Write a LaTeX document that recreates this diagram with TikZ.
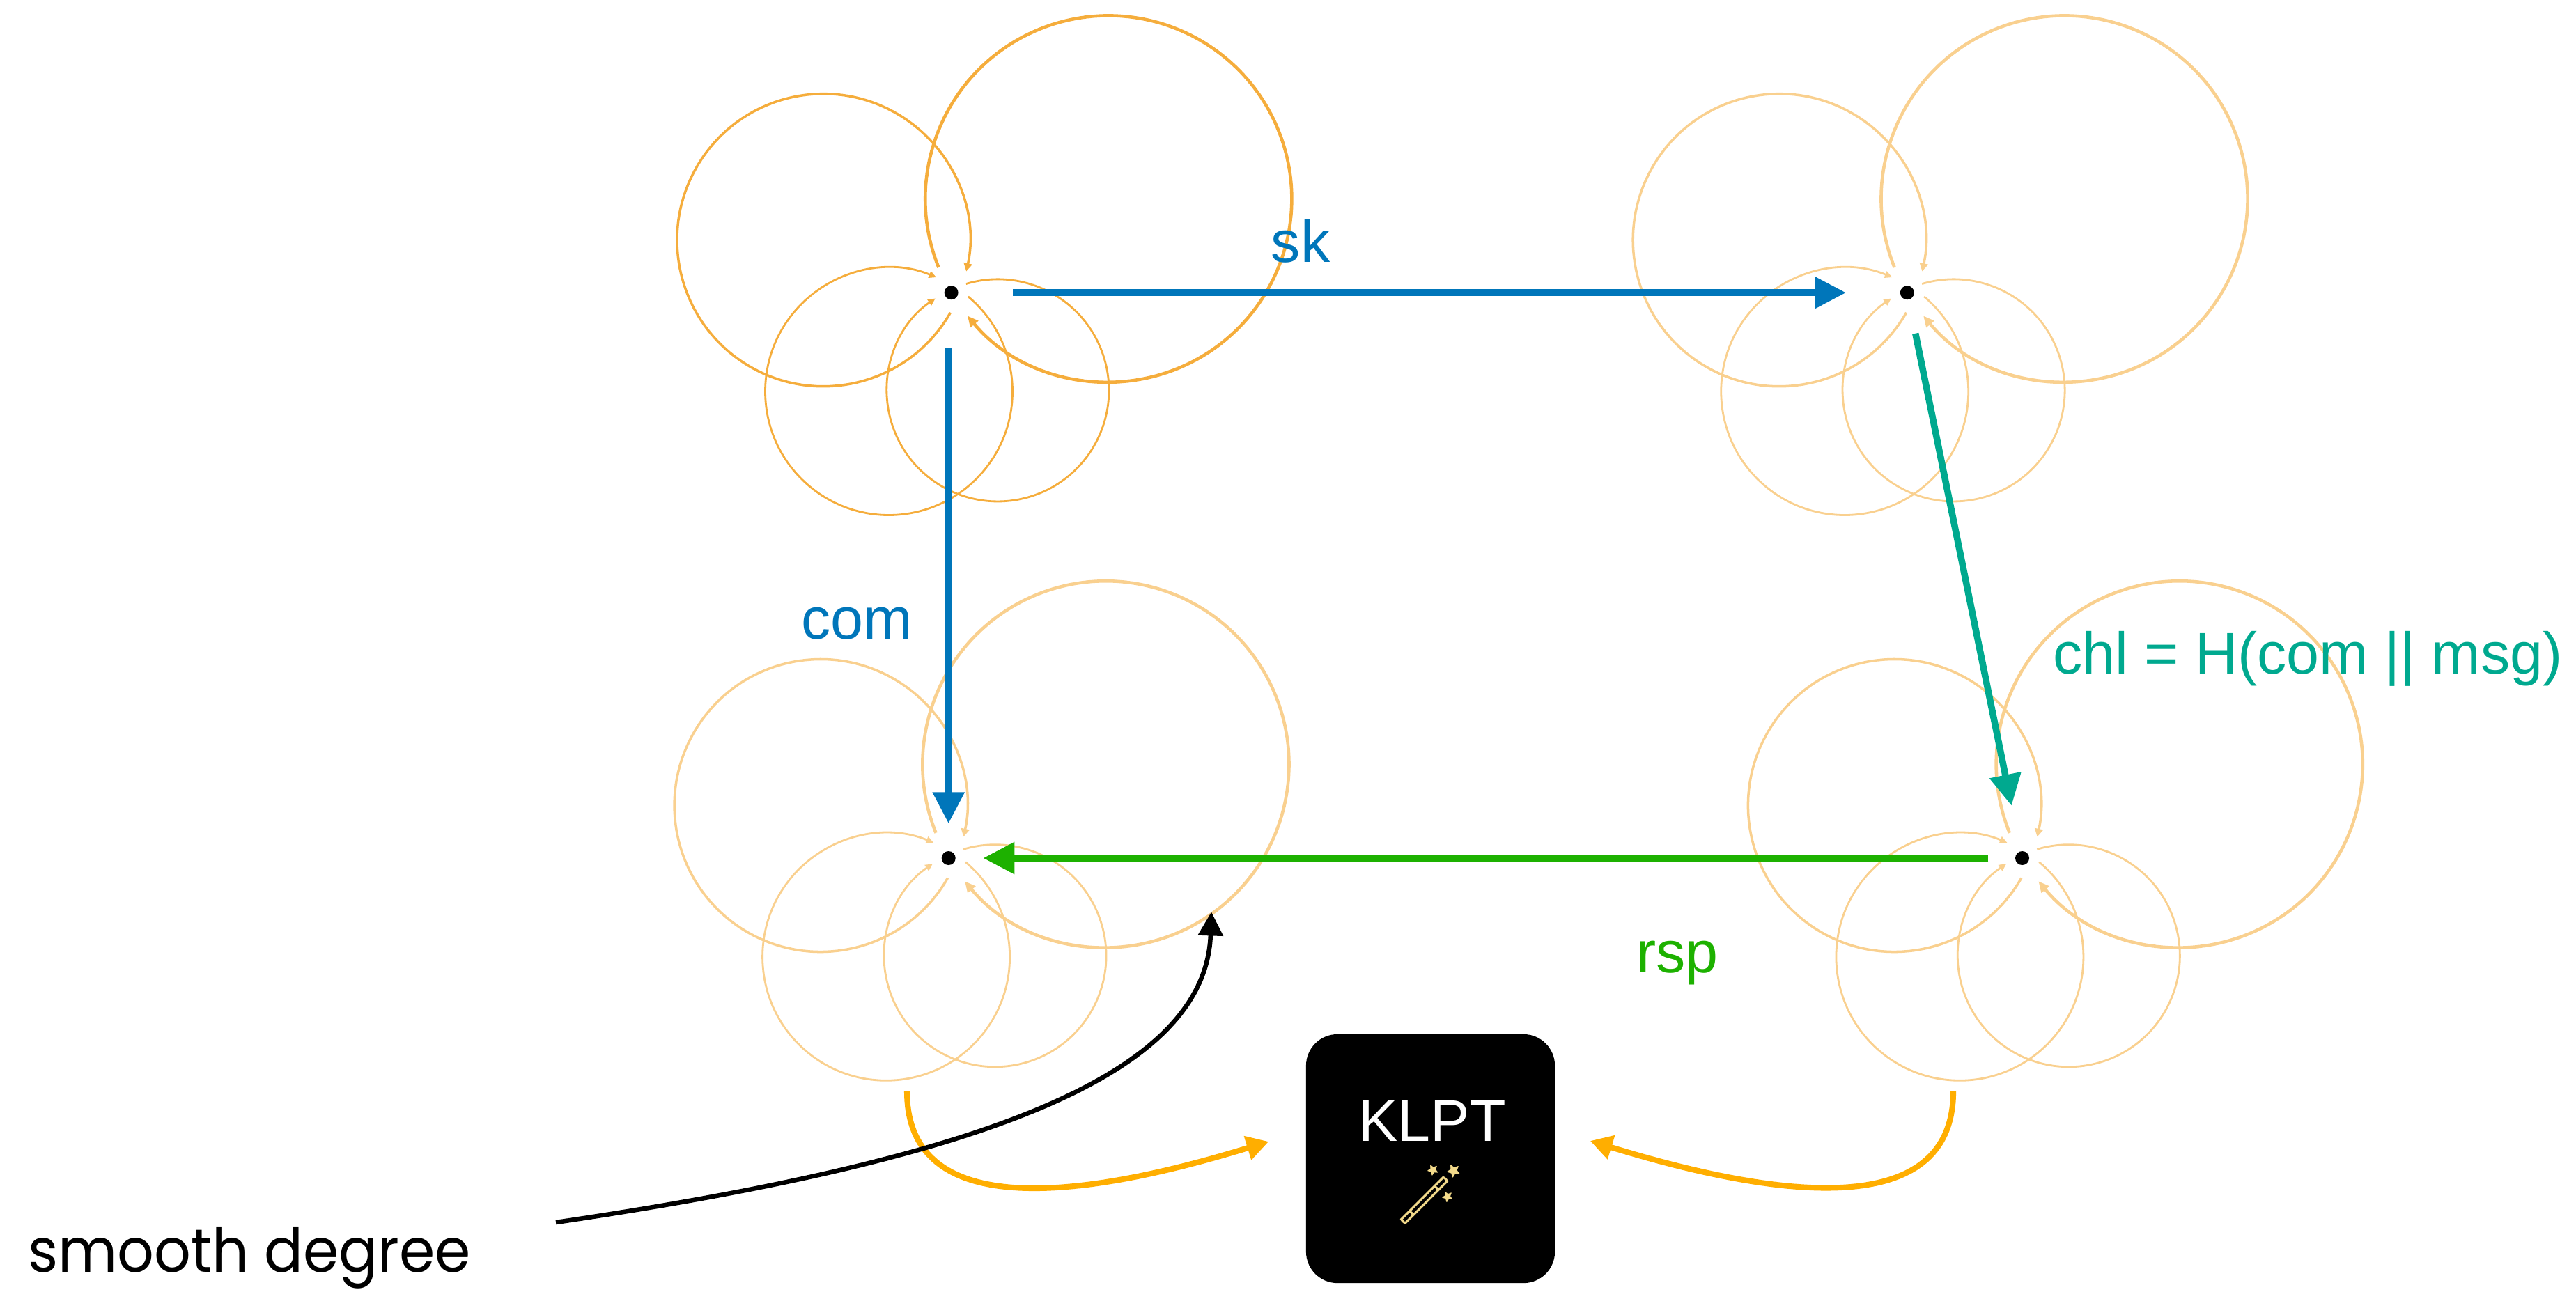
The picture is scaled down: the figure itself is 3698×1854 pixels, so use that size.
\documentclass[tikz,border=0pt]{standalone}
\usepackage{fontspec}
\setmainfont{Liberation Sans}
\newfontfamily\geofont{Poppins}[FakeStretch=0.94]
\newfontfamily\emojifont{Noto Emoji}
\usetikzlibrary{arrows.meta,calc}

\definecolor{isoA}{HTML}{F5AD3C}
\definecolor{isoB}{HTML}{F9D08F}
\definecolor{skblue}{HTML}{0076BA}
\definecolor{chlteal}{HTML}{00A98F}
\definecolor{rspgreen}{HTML}{1DB100}
\definecolor{klptorange}{HTML}{FFAE00}
\definecolor{wandgold}{HTML}{F2D98A}

\tikzset{
  vertex/.style={circle, fill=black, inner sep=0pt, minimum size=0.2cm},
  loopbig/.style={line width=1.3pt, -{Triangle[length=4.4pt,width=4pt]}},
  loopmid/.style={line width=1.0pt, -{Triangle[length=3.3pt,width=3.4pt]}},
  loopsmall/.style={line width=0.8pt, -{Triangle[length=3pt,width=2.8pt]}},
  mainarrow/.style={line width=2.7pt, -{Triangle[length=12.8pt,width=12.5pt]}},
  lbl/.style={font=\fontsize{24}{28}\selectfont, inner sep=0pt, anchor=base},
  klptarrow/.style={klptorange, line width=2.3pt, -{Triangle[length=9pt,width=9.7pt]}},
  hintarrow/.style={black, line width=1.85pt, -{Triangle[length=9.7pt,width=10pt]}},
}

% four self-loops (cycles of the isogeny graph) around one vertex
\newcommand\isocluster[2]{%
  \draw[loopbig,#2] ($(#1)+(225.7,134.7)$) ++(202:263)
    arc[start angle=202, end angle=-140.3, radius=263];
  \draw[loopmid,#2] ($(#1)+(-183.6,75.5)$) ++(-29.7:210)
    arc[start angle=-29.7, end angle=-372.35, radius=210];
  \draw[loopsmall,#2] ($(#1)+(-89.6,-141.8)$) ++(50.1:177.5)
    arc[start angle=50.1, end angle=-292.55, radius=177.5];
  \draw[loopsmall,#2] ($(#1)+(66.8,-140.2)$) ++(106.6:159.5)
    arc[start angle=106.6, end angle=-235.8, radius=159.5];
}

\begin{document}
\begin{tikzpicture}[x=0.01cm, y=0.01cm]
\useasboundingbox (0,-1854) rectangle (3698,0);

% vertices
\node[vertex] (tl) at (1365.6,-420.2) {};
\node[vertex] (tr) at (2737.8,-420.2) {};
\node[vertex] (bl) at (1361.7,-1232) {};
\node[vertex] (br) at (2903,-1232) {};

% neighbourhoods
\isocluster{tl}{isoA}
\isocluster{tr}{isoB}
\isocluster{bl}{isoB}
\isocluster{br}{isoB}

% protocol arrows
\draw[mainarrow, skblue, shorten <=0.78cm, shorten >=0.77cm] (tl) -- (tr);
\draw[mainarrow, skblue, shorten <=0.80cm, shorten >=0.39cm] (tl -| bl) -- (bl);
\draw[mainarrow, chlteal, shorten <=0.49cm, shorten >=0.66cm] (tr) -- (br);
\draw[mainarrow, rspgreen, shorten <=0.38cm, shorten >=0.39cm] (br) -- (bl);

% labels
\node[lbl, text=skblue] (sk) at (1867,-376.7) {sk};
\node[lbl, text=skblue] (com) at (1230,-917) {com};
\node[lbl, text=chlteal] (chl) at (3313,-967) {chl = H(com || msg)};
\node[lbl, text=rspgreen] (rsp) at (2408,-1396) {rsp};

% KLPT box
\node[fill=black, rounded corners=0.45cm, minimum width=3.57cm,
      minimum height=3.57cm, inner sep=0pt] (klpt) at (2053.5,-1663.5) {};
\node[lbl, text=white] (klpttext) at (2056,-1638) {KLPT};
\node[inner sep=0pt, text=wandgold, font={\emojifont\fontsize{24}{28}\selectfont}]
  (wand) at (2053,-1716) {🪄};

% arrows into KLPT
\coordinate (blfoot) at (1302,-1567);
\coordinate (brfoot) at (2804,-1567);
\coordinate (klptL) at ($(klpt.west)+(-53,24.5)$);
\coordinate (klptR) at ($(klpt.east)+(50,25.5)$);
\draw[klptarrow] (blfoot) .. controls +(0,-208) and +(-208.4,-63.7) .. (klptL);
\draw[klptarrow] (brfoot) .. controls +(0,-208) and +(208.4,-63.7) .. (klptR);

% smooth degree annotation
\node[inner sep=0pt, anchor=base west, font={\geofont\fontsize{25}{30}\selectfont}]
  (sd) at (40,-1826) {smooth degree};
\coordinate (sdstart) at (798,-1755);
\coordinate (bigarc) at ($(bl)+(377.3,-77.3)$);
\draw[hintarrow] (sdstart) .. controls +(593.4,87.6) and +(-8.4,-240) .. (bigarc);
\end{tikzpicture}
\end{document}
